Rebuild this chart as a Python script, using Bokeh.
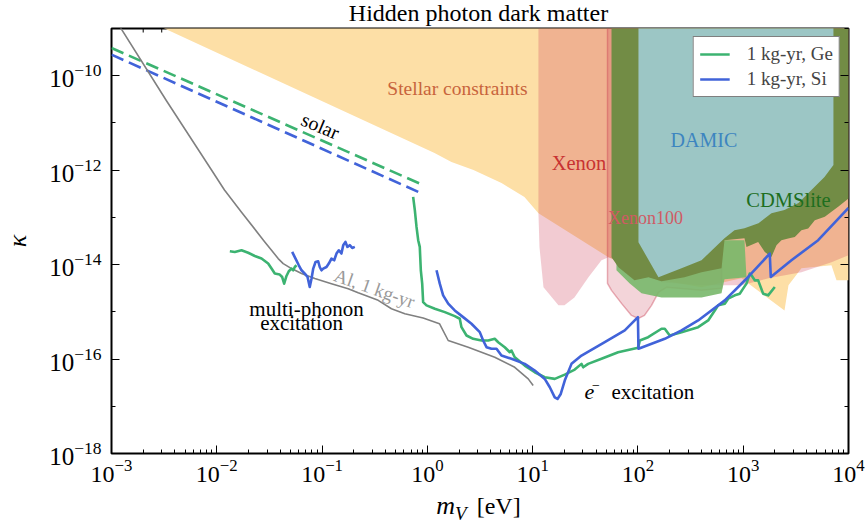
from bokeh.plotting import figure
from bokeh.layouts import column
from bokeh.models import (Range1d, FixedTicker, LogTickFormatter, LogAxis, Label, Div,
                          CustomJSTickFormatter, Legend, LegendItem)
from bokeh.embed import file_html
from bokeh.resources import INLINE

# ---------------- data (log10 of m_V [eV] and log10 of kappa) ----------------
solar_lm = [-3.0, -0.040]
ge_solar_lk = [-9.412, -12.315]
si_solar_lk = [-9.554, -12.506]

al_lm = [-2.943, -2.915, -2.478, -2.050, -1.927, -1.765, -1.594, -1.544, -1.480, -1.417, -1.369,
         -1.290, -1.195, -1.069, -0.911, -0.752, -0.657, -0.467, -0.341, -0.214, -0.040, 0.115,
         0.198, 0.388, 0.640, 0.830, 0.958, 1.005]
al_lk = [-8.811, -8.981, -10.531, -11.997, -12.421, -12.889, -13.377, -13.519, -13.695, -13.872,
         -13.978, -14.084, -14.190, -14.296, -14.403, -14.509, -14.598, -14.757, -14.934, -15.040,
         -15.129, -15.252, -15.607, -15.749, -15.961, -16.174, -16.420, -16.562]

ge_mp_lm = [-1.876, -1.829, -1.765, -1.702, -1.639, -1.575, -1.512, -1.480, -1.449, -1.402, -1.379,
            -1.360, -1.338, -1.316, -1.290, -1.274, -1.259, -1.243]
ge_mp_lk = [-13.717, -13.732, -13.696, -13.748, -13.817, -13.872, -13.978, -14.084, -14.190, -14.211,
            -14.263, -14.403, -14.241, -14.141, -14.084, -14.120, -14.050, -14.014]

si_mp_lm = [-1.284, -1.252, -1.221, -1.195, -1.164, -1.138, -1.117, -1.100, -1.084, -1.062, -1.037,
            -1.022, -1.006, -0.989, -0.958, -0.936, -0.911, -0.885, -0.863, -0.841, -0.816, -0.799,
            -0.778, -0.759, -0.737, -0.714, -0.689]
si_mp_lk = [-13.732, -13.872, -14.014, -14.120, -14.190, -14.263, -14.475, -14.296, -14.084, -13.944,
            -13.929, -14.050, -14.120, -14.084, -14.050, -13.978, -13.872, -13.908, -13.766, -13.696,
            -13.766, -13.589, -13.519, -13.625, -13.589, -13.647, -13.625]

ge_e_lm = [-0.135, -0.119, -0.103, -0.087, -0.072, -0.062, -0.049, -0.040, -0.008, 0.071, 0.166,
           0.260, 0.308, 0.324, 0.372, 0.435, 0.514, 0.578, 0.640, 0.673, 0.735, 0.783, 0.799,
           0.830, 0.925, 1.020, 1.115, 1.210, 1.305, 1.400, 1.464, 1.480, 1.527, 1.654, 1.812,
           2.002, 2.018, 2.097, 2.224, 2.255, 2.302, 2.414, 2.572, 2.667, 2.730, 2.762, 2.825,
           2.857, 2.920, 2.967, 2.999, 3.031, 3.062, 3.078, 3.110, 3.142, 3.189, 3.237, 3.300]
ge_e_lk = [-12.564, -12.846, -13.201, -13.483, -13.625, -14.120, -14.403, -14.793, -14.863, -14.934,
           -15.006, -15.091, -15.146, -15.324, -15.501, -15.571, -15.607, -15.607, -15.571, -15.643,
           -15.749, -15.855, -15.819, -15.961, -16.138, -16.280, -16.386, -16.420, -16.329, -16.223,
           -16.102, -16.174, -16.102, -15.995, -15.855, -15.762, -15.607, -15.537, -15.358, -15.358,
           -15.501, -15.430, -15.324, -15.182, -14.970, -14.863, -14.827, -14.721, -14.651, -14.615,
           -14.509, -14.403, -14.190, -14.226, -14.333, -14.333, -14.615, -14.651, -14.475]

si_e_lm = [0.087, 0.118, 0.150, 0.198, 0.260, 0.340, 0.419, 0.498, 0.530, 0.562, 0.609, 0.657,
           0.704, 0.799, 0.925, 1.020, 1.115, 1.163, 1.210, 1.236, 1.267, 1.305, 1.369, 1.464,
           1.685, 1.875, 2.000, 2.005, 2.255, 2.414, 2.572, 2.825, 3.047, 3.252, 3.262, 3.458,
           3.712, 4.0]
si_e_lk = [-14.120, -14.403, -14.651, -14.827, -14.970, -15.112, -15.252, -15.430, -15.607, -15.749,
           -15.783, -15.783, -15.925, -15.995, -16.102, -16.244, -16.420, -16.598, -16.811, -16.845,
           -16.739, -16.456, -16.102, -15.925, -15.643, -15.394, -15.112, -15.783, -15.571, -15.394,
           -15.182, -14.757, -14.262, -13.766, -14.262, -13.908, -13.483, -12.80]

# constraint regions
stellar_lm = [-2.594, 4.0, 4.0, 3.886, 3.838, 3.553, 3.430, 3.392, 3.173, 2.983, 2.604, 2.224,
              1.720, 1.055, 0.922, 0.704, 0.438, 0.229, 0.068]
stellar_lk = [-8.9, -8.9, -14.333, -14.333, -14.014, -14.078, -14.439, -14.970, -14.609, -14.290,
              -14.481, -14.333, -13.844, -12.910, -12.570, -12.273, -11.997, -11.827, -11.636]

xenon_lm = [1.055, 4.0, 4.0, 3.838, 3.553, 3.240, 2.983, 2.604, 2.224, 1.844, 1.720, 1.654, 1.530,
            1.397, 1.302, 1.245, 1.103, 1.065, 1.055]
xenon_lk = [-8.9, -8.9, -13.802, -13.950, -14.163, -14.290, -14.439, -14.439, -14.375, -13.950,
            -13.844, -13.908, -14.269, -14.694, -14.863, -14.863, -14.481, -13.632, -12.910]

xenon100_lm = [1.711, 2.794, 2.794, 2.604, 2.271, 2.195, 2.129, 2.062, 2.005, 1.939, 1.844, 1.749, 1.711]
xenon100_lk = [-8.9, -8.9, -14.502, -14.545, -14.481, -14.587, -14.863, -15.076, -15.140, -15.076,
               -14.821, -14.545, -14.396]

lightgreen_lm = [1.796, 2.604, 2.822, 3.012, 3.031, 2.822, 2.794, 2.604, 2.224, 2.034, 1.920, 1.796]
lightgreen_lk = [-13.950, -13.950, -13.483, -13.483, -14.269, -14.311, -14.609, -14.694, -14.694,
                 -14.609, -14.396, -14.120]

cdms_lm = [1.749, 4.0, 4.0, 3.902, 3.838, 3.775, 3.680, 3.617, 3.553, 3.490, 3.427, 3.363, 3.316,
           3.268, 3.205, 3.142, 3.031, 3.012, 2.822, 2.794, 2.604, 2.442, 2.224, 2.100, 1.967,
           1.815, 1.749]
cdms_lk = [-8.9, -8.9, -12.598, -12.776, -12.882, -12.988, -13.058, -13.235, -13.271, -13.413,
           -13.447, -13.483, -13.589, -13.838, -13.732, -13.519, -13.625, -13.441, -13.483, -14.078,
           -14.163, -14.269, -14.354, -14.269, -14.333, -14.057, -13.844]

damic_lm = [2.005, 3.857, 3.857, 3.772, 3.648, 3.525, 3.392, 3.268, 3.145, 3.012, 2.917, 2.822,
            2.604, 2.414, 2.195, 2.005]
damic_lk = [-8.9, -8.9, -11.890, -12.145, -12.421, -12.697, -12.846, -12.910, -13.122, -13.228,
            -13.271, -13.441, -13.908, -14.078, -14.269, -13.526]

x_major_exp = [-3, -2, -1, 0, 1, 2, 3, 4]
y_major_exp = [-18, -16, -14, -12, -10]
y_minor_exp = [-17, -15, -13, -11, -9]

SERIF = "Liberation Serif"
FRAME_W, FRAME_H = 737, 425
Y_LO, Y_HI = -18, -9


def P(a):
    return [10.0 ** v for v in a]


p = figure(title=None, x_axis_type="log", y_axis_type="log",
           x_range=Range1d(1e-3, 1e4), y_range=Range1d(10.0 ** Y_LO, 10.0 ** Y_HI),
           frame_width=FRAME_W, frame_height=FRAME_H,
           min_border_left=110, min_border_right=17, min_border_top=1, min_border_bottom=40,
           output_backend="svg", toolbar_location=None,
           background_fill_color="white", border_fill_color="white")
p.grid.visible = False
p.outline_line_color = "black"
p.outline_line_width = 2

x_major = [10.0 ** k for k in x_major_exp]
x_minor = [m * 10.0 ** k for k in x_major_exp[:-1] for m in range(2, 10)]
y_major = [10.0 ** k for k in y_major_exp]
y_minor = [10.0 ** k for k in y_minor_exp]


def style_axis(ax, size="24px"):
    ax.major_tick_in = 8
    ax.major_tick_out = 0
    ax.minor_tick_in = 4
    ax.minor_tick_out = 0
    ax.major_tick_line_color = "black"
    ax.minor_tick_line_color = "black"
    ax.major_tick_line_width = 1
    ax.minor_tick_line_width = 1
    ax.axis_line_color = None
    ax.major_label_text_font = SERIF
    ax.major_label_text_font_size = size
    ax.major_label_text_color = "black"


p.xaxis.ticker = FixedTicker(ticks=x_major, minor_ticks=x_minor)
p.xaxis.formatter = LogTickFormatter()
p.yaxis.ticker = FixedTicker(ticks=y_major, minor_ticks=y_minor)
p.yaxis.formatter = LogTickFormatter()
style_axis(p.xaxis[0], "24px")
style_axis(p.yaxis[0], "25px")
p.yaxis.major_label_standoff = 10
p.xaxis.major_label_standoff = 6
p.yaxis.axis_label = "\u03ba"
p.yaxis.axis_label_text_font = SERIF
p.yaxis.axis_label_text_font_style = "italic"
p.yaxis.axis_label_text_font_size = "26px"
p.yaxis.axis_label_text_color = "black"
p.yaxis.axis_label_standoff = 14

blank = CustomJSTickFormatter(code="return ''")
right_ax = LogAxis(ticker=FixedTicker(ticks=y_major, minor_ticks=y_minor), formatter=blank)
style_axis(right_ax)
right_ax.major_label_text_font_size = "1px"
right_ax.major_label_standoff = 0
p.add_layout(right_ax, "right")

# inward tick marks along the top edge (8 px major, 4 px minor)
dec_per_px = (Y_HI - Y_LO) / FRAME_H
top_major_y1 = 10.0 ** (Y_HI - 8 * dec_per_px)
top_minor_y1 = 10.0 ** (Y_HI - 4 * dec_per_px)
p.segment(x0=x_major, y0=[10.0 ** Y_HI] * len(x_major), x1=x_major,
          y1=[top_major_y1] * len(x_major), line_color="black", line_width=1)
p.segment(x0=x_minor, y0=[10.0 ** Y_HI] * len(x_minor), x1=x_minor,
          y1=[top_minor_y1] * len(x_minor), line_color="black", line_width=1)

# ---------------- regions ----------------
p.patch(P(stellar_lm), P(stellar_lk), fill_color="#FDDFA6", line_color=None)
p.patch(P(xenon_lm), P(xenon_lk), fill_color="#D0405A", fill_alpha=0.27, line_color=None)
p.patch(P(xenon100_lm), P(xenon100_lk), fill_color="#C83C50", fill_alpha=0.22,
        line_color="#C83C50", line_alpha=0.4, line_width=1.5)
p.patch(P(lightgreen_lm), P(lightgreen_lk), fill_color="#78B86A", fill_alpha=0.9, line_color=None)
p.patch(P(cdms_lm), P(cdms_lk), fill_color="#728C45", line_color=None)
p.patch(P(damic_lm), P(damic_lk), fill_color="#9CC6C5", line_color=None)

# ---------------- curves ----------------
GREEN = "#3CB371"
BLUE = "#4163D9"
p.line(P(solar_lm), P(ge_solar_lk), line_color=GREEN, line_width=2.6, line_dash="13 6")
p.line(P(solar_lm), P(si_solar_lk), line_color=BLUE, line_width=2.6, line_dash="13 6")
p.line(P(al_lm), P(al_lk), line_color="#808080", line_width=1.6, line_join="round")
p.line(P(ge_mp_lm), P(ge_mp_lk), line_color=GREEN, line_width=2.6, line_join="round")
p.line(P(si_mp_lm), P(si_mp_lk), line_color=BLUE, line_width=2.6, line_join="round")
ge_r = p.line(P(ge_e_lm), P(ge_e_lk), line_color=GREEN, line_width=2.6, line_join="round")
si_r = p.line(P(si_e_lm), P(si_e_lk), line_color=BLUE, line_width=2.6, line_join="round")

legend = Legend(items=[LegendItem(label="1 kg-yr, Ge", renderers=[ge_r]),
                       LegendItem(label="1 kg-yr, Si", renderers=[si_r])],
                location="top_right", margin=8, padding=6, spacing=3,
                glyph_width=30, glyph_height=20, label_height=20, label_standoff=17,
                label_text_font=SERIF, label_text_font_size="19px",
                border_line_color="black", border_line_width=1.5,
                background_fill_color="white", background_fill_alpha=1.0)
p.add_layout(legend)

# ---------------- labels inside the frame ----------------
def lab(lm, lk, text, size, color="black", style="normal", align="center",
        baseline="middle", angle=0.0):
    p.add_layout(Label(x=10.0 ** lm, y=10.0 ** lk, text=text, text_font=SERIF,
                       text_font_size=size, text_color=color, text_font_style=style,
                       text_align=align, text_baseline=baseline, angle=angle))


lab(0.286, -10.266, "Stellar constraints", "19.5px", "#C8643C")
lab(1.440, -11.854, "Xenon", "20.5px", "#C83232")
lab(2.627, -11.360, "DAMIC", "20px", "#3D85C0")
lab(3.430, -12.634, "CDMSlite", "20.5px", "#1E6E1E")
lab(2.072, -13.016, "Xenon100", "18px", "#D05A64")
lab(-1.015, -11.062, "solar", "20px", "black", angle=-0.40)
lab(-0.502, -14.502, "Al, 1 kg-yr", "19px", "#999999", angle=-0.34)
lab(-1.148, -14.948, "multi-phonon", "21px")
lab(-1.195, -15.246, "excitation", "21px")
lab(1.492, -16.690, "e", "22px", style="italic", align="left", baseline="alphabetic")
lab(1.564, -16.541, "\u2212", "14px", align="left", baseline="alphabetic")
lab(1.749, -16.690, "excitation", "21px", align="left", baseline="alphabetic")

# ---------------- title and x-axis label as HTML text ----------------
title_div = Div(
    text='<div style="width:737px;margin-left:110px;padding-top:1px;text-align:center;'
         'font-family:\'Liberation Serif\',serif;font-size:24px;line-height:25px;color:black;'
         'white-space:nowrap;">Hidden photon dark matter</div>',
    width=864, height=27, margin=0)
xlabel_div = Div(
    text='<div style="width:737px;margin-left:110px;text-align:center;'
         'font-family:\'Liberation Serif\',serif;font-size:24px;line-height:26px;color:black;'
         'white-space:nowrap;"><i style="font-size:26px;">m</i>'
         '<sub style="font-size:19px;"><i>V</i></sub>'
         '<span style="margin-left:10px;">[eV]</span></div>',
    width=864, height=34, margin=0)

layout = column(title_div, p, xlabel_div, spacing=0)
open("out.html", "w").write(file_html(layout, INLINE))
